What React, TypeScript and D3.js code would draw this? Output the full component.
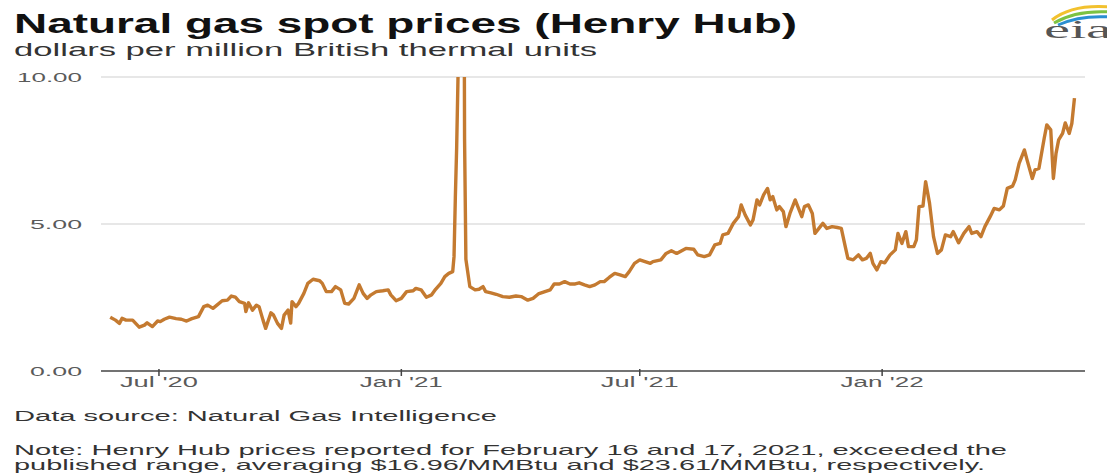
import { useRef, useEffect } from 'react';
import * as d3 from 'd3';

// Henry Hub spot price (dollars per MMBtu)
const dates = [
  '2020-05-25', '2020-05-29', '2020-06-01', '2020-06-03', '2020-06-06', '2020-06-11', '2020-06-16', '2020-06-20',
  '2020-06-22', '2020-06-26', '2020-06-30', '2020-07-02', '2020-07-05', '2020-07-09', '2020-07-14', '2020-07-18',
  '2020-07-22', '2020-07-26', '2020-07-31', '2020-08-04', '2020-08-07', '2020-08-11', '2020-08-14', '2020-08-18',
  '2020-08-22', '2020-08-25', '2020-08-28', '2020-08-31', '2020-09-04', '2020-09-05', '2020-09-07', '2020-09-10',
  '2020-09-13', '2020-09-15', '2020-09-18', '2020-09-20', '2020-09-24', '2020-09-26', '2020-09-29', '2020-10-02',
  '2020-10-04', '2020-10-07', '2020-10-09', '2020-10-10', '2020-10-13', '2020-10-15', '2020-10-19', '2020-10-22',
  '2020-10-26', '2020-10-31', '2020-11-02', '2020-11-05', '2020-11-09', '2020-11-12', '2020-11-16', '2020-11-19',
  '2020-11-22', '2020-11-26', '2020-11-30', '2020-12-03', '2020-12-06', '2020-12-09', '2020-12-13', '2020-12-18',
  '2020-12-22', '2020-12-24', '2020-12-28', '2021-01-01', '2021-01-05', '2021-01-10', '2021-01-12', '2021-01-16',
  '2021-01-20', '2021-01-24', '2021-01-27', '2021-01-31', '2021-02-03', '2021-02-06', '2021-02-09', '2021-02-10',
  '2021-02-11', '2021-02-12', '2021-02-16', '2021-02-17', '2021-02-18', '2021-02-19', '2021-02-22', '2021-02-26',
  '2021-03-01', '2021-03-04', '2021-03-06', '2021-03-10', '2021-03-14', '2021-03-19', '2021-03-24', '2021-03-29',
  '2021-04-02', '2021-04-07', '2021-04-11', '2021-04-15', '2021-04-20', '2021-04-24', '2021-04-27', '2021-05-01',
  '2021-05-05', '2021-05-09', '2021-05-13', '2021-05-16', '2021-05-20', '2021-05-24', '2021-05-28', '2021-06-01',
  '2021-06-04', '2021-06-08', '2021-06-12', '2021-06-16', '2021-06-20', '2021-06-23', '2021-06-27', '2021-07-01',
  '2021-07-05', '2021-07-09', '2021-07-11', '2021-07-17', '2021-07-21', '2021-07-25', '2021-07-29', '2021-08-05',
  '2021-08-11', '2021-08-14', '2021-08-19', '2021-08-23', '2021-08-27', '2021-08-31', '2021-09-02', '2021-09-06',
  '2021-09-10', '2021-09-14', '2021-09-16', '2021-09-19', '2021-09-23', '2021-09-25', '2021-09-28', '2021-09-30',
  '2021-10-03', '2021-10-06', '2021-10-08', '2021-10-10', '2021-10-13', '2021-10-15', '2021-10-18', '2021-10-20',
  '2021-10-23', '2021-10-27', '2021-10-29', '2021-11-01', '2021-11-03', '2021-11-06', '2021-11-09', '2021-11-11',
  '2021-11-14', '2021-11-17', '2021-11-20', '2021-11-24', '2021-11-28', '2021-12-01', '2021-12-04', '2021-12-06',
  '2021-12-10', '2021-12-14', '2021-12-17', '2021-12-20', '2021-12-23', '2021-12-25', '2021-12-28', '2021-12-31',
  '2022-01-03', '2022-01-07', '2022-01-11', '2022-01-13', '2022-01-16', '2022-01-19', '2022-01-21', '2022-01-25',
  '2022-01-27', '2022-01-29', '2022-02-01', '2022-02-03', '2022-02-06', '2022-02-09', '2022-02-12', '2022-02-15',
  '2022-02-18', '2022-02-22', '2022-02-24', '2022-02-28', '2022-03-04', '2022-03-08', '2022-03-10', '2022-03-14',
  '2022-03-17', '2022-03-20', '2022-03-24', '2022-03-27', '2022-03-31', '2022-04-03', '2022-04-06', '2022-04-10',
  '2022-04-12', '2022-04-15', '2022-04-19', '2022-04-21', '2022-04-25', '2022-04-27', '2022-04-30', '2022-05-04',
  '2022-05-06', '2022-05-09', '2022-05-11', '2022-05-13', '2022-05-15', '2022-05-18', '2022-05-20', '2022-05-23',
  '2022-05-25', '2022-05-27',
];

const prices = [
  1.83, 1.73, 1.62, 1.79, 1.73, 1.73, 1.49, 1.56,
  1.64, 1.51, 1.70, 1.68, 1.76, 1.83, 1.78, 1.76,
  1.70, 1.78, 1.85, 2.19, 2.24, 2.13, 2.24, 2.39,
  2.41, 2.55, 2.51, 2.36, 2.30, 2.02, 2.32, 2.07,
  2.24, 2.19, 1.73, 1.45, 1.98, 1.90, 1.62, 1.45,
  1.90, 2.07, 1.63, 2.36, 2.19, 2.30, 2.64, 2.98,
  3.12, 3.07, 2.98, 2.70, 2.70, 2.87, 2.76, 2.30,
  2.28, 2.47, 2.93, 2.64, 2.47, 2.59, 2.70, 2.73,
  2.76, 2.59, 2.39, 2.47, 2.70, 2.73, 2.81, 2.76,
  2.51, 2.59, 2.78, 2.98, 3.21, 3.32, 3.38, 3.89,
  5.90, 7.60, 16.96, 23.61, 7.90, 3.80, 2.87, 2.76,
  2.78, 2.87, 2.70, 2.66, 2.61, 2.53, 2.51, 2.55,
  2.53, 2.41, 2.47, 2.62, 2.70, 2.76, 2.96, 2.96,
  3.04, 2.96, 2.96, 3.00, 2.93, 2.87, 2.93, 3.04,
  3.04, 3.19, 3.32, 3.27, 3.21, 3.38, 3.66, 3.78,
  3.72, 3.66, 3.72, 3.78, 4.00, 4.09, 4.00, 4.17,
  4.14, 3.95, 3.89, 3.95, 4.29, 4.34, 4.63, 4.68,
  5.02, 5.25, 5.65, 5.31, 4.97, 5.14, 5.82, 5.65,
  5.99, 6.21, 5.82, 5.93, 5.48, 5.59, 5.42, 4.91,
  5.36, 5.82, 5.59, 5.25, 5.59, 5.65, 5.36, 4.68,
  4.85, 5.02, 4.85, 4.91, 4.88, 4.85, 4.23, 3.83,
  3.78, 3.95, 3.78, 3.83, 4.00, 3.66, 3.44, 3.72,
  3.68, 3.95, 4.12, 4.68, 4.34, 4.74, 4.23, 4.23,
  4.46, 5.59, 5.61, 6.44, 5.70, 4.57, 4.00, 4.12,
  4.63, 4.57, 4.74, 4.36, 4.68, 4.91, 4.68, 4.74,
  4.57, 4.91, 5.25, 5.53, 5.48, 5.61, 6.21, 6.29,
  6.50, 7.06, 7.52, 7.18, 6.55, 6.84, 6.89, 7.91,
  8.37, 8.20, 6.55, 7.40, 7.86, 8.08, 8.44, 8.08,
  8.42, 9.28,
];

const xTicks = ['2020-07-01', '2021-01-01', '2021-07-01', '2022-01-01'];
const yTicks = [0, 5, 10];

const title = 'Natural gas spot prices (Henry Hub)';
const subtitle = 'dollars per million British thermal units';
const source = 'Data source: Natural Gas Intelligence';
const noteLines = [
  'Note: Henry Hub prices reported for February 16 and 17, 2021, exceeded the',
  'published range, averaging $16.96/MMBtu and $23.61/MMBtu, respectively.',
];

const W = 1107;
const H = 474;
const FONT = "'Liberation Sans', Arial, Helvetica, sans-serif";
const LINE = '#c47a30';

export default function App() {
  const ref = useRef<SVGSVGElement | null>(null);

  useEffect(() => {
    const svg = d3.select(ref.current);
    svg.selectAll('*').remove();

    const parse = d3.timeParse('%Y-%m-%d');
    const data = dates.map((d, i) => ({ date: parse(d)!, value: prices[i] }));

    const left = 101;
    const right = 1085;
    const top = 77;
    const bottom = 371;

    const x = d3
      .scaleTime()
      .domain([parse('2020-05-18')!, parse('2022-06-04')!])
      .range([left, right]);
    const y = d3.scaleLinear().domain([0, 10]).range([bottom, top]);

    // the source image is stretched sideways, so texts get a fixed length
    const stretched = (
      txt: string,
      tx: number,
      ty: number,
      size: number,
      len: number,
      opts: { weight?: string; fill?: string; anchor?: string } = {}
    ) =>
      svg
        .append('text')
        .attr('x', tx)
        .attr('y', ty)
        .attr('font-family', FONT)
        .attr('font-size', size)
        .attr('font-weight', opts.weight || 'normal')
        .attr('fill', opts.fill || '#333')
        .attr('text-anchor', opts.anchor || 'start')
        .attr('textLength', len)
        .attr('lengthAdjust', 'spacingAndGlyphs')
        .text(txt);

    stretched(title, 14, 33, 28, 783, { weight: 'bold', fill: '#111' });
    stretched(subtitle, 14, 56, 18.5, 583, { fill: '#333' });

    // eia logo
    const logo = svg.append('g');
    const arcs = [
      { c: '#f2c12e', d: 'M1052,20 Q1072,4 1110,7' },
      { c: '#7cc242', d: 'M1054,23 Q1076,10 1110,12' },
      { c: '#2a8fd1', d: 'M1058,25 Q1080,15 1110,17' },
    ];
    arcs.forEach(a =>
      logo
        .append('path')
        .attr('d', a.d)
        .attr('fill', 'none')
        .attr('stroke', a.c)
        .attr('stroke-width', 3)
    );
    logo
      .append('text')
      .attr('x', 1044)
      .attr('y', 38)
      .attr('font-family', "'Liberation Serif', 'DejaVu Serif', serif")
      .attr('font-size', 25)
      .attr('fill', '#555')
      .attr('textLength', 68)
      .attr('lengthAdjust', 'spacingAndGlyphs')
      .text('eia');

    // gridlines
    svg
      .append('g')
      .selectAll('line')
      .data(yTicks.filter(t => t > 0))
      .join('line')
      .attr('x1', left)
      .attr('x2', right)
      .attr('y1', d => y(d))
      .attr('y2', d => y(d))
      .attr('stroke', '#cfcfcf')
      .attr('stroke-width', 1.2);

    // y labels
    const fmt = d3.format('.2f');
    yTicks.forEach(t => {
      const s = fmt(t);
      stretched(s, 82, y(t) + 5, 13.5, s.length === 5 ? 65 : 52, { anchor: 'end', fill: '#5a5a5a' });
    });

    // x axis
    svg
      .append('line')
      .attr('x1', left)
      .attr('x2', right)
      .attr('y1', bottom)
      .attr('y2', bottom)
      .attr('stroke', '#444')
      .attr('stroke-width', 1.6);

    const xFmt = d3.timeFormat("%b '%y");
    xTicks.forEach(t => {
      const d = parse(t)!;
      const px = x(d);
      svg
        .append('line')
        .attr('x1', px)
        .attr('x2', px)
        .attr('y1', bottom - 2)
        .attr('y2', bottom + 5)
        .attr('stroke', '#444')
        .attr('stroke-width', 1.5);
      const lab = xFmt(d);
      stretched(lab, px, 387, 14, lab.startsWith('Jan') ? 83 : 78, { anchor: 'middle', fill: '#5a5a5a' });
    });

    // line, clipped at the top of the range
    svg
      .append('clipPath')
      .attr('id', 'plot-clip')
      .append('rect')
      .attr('x', left - 10)
      .attr('y', top)
      .attr('width', right - left + 20)
      .attr('height', bottom - top + 10);

    const line = d3
      .line<{ date: Date; value: number }>()
      .x(d => x(d.date))
      .y(d => y(d.value));

    svg
      .append('path')
      .datum(data)
      .attr('clip-path', 'url(#plot-clip)')
      .attr('fill', 'none')
      .attr('stroke', LINE)
      .attr('stroke-width', 3.4)
      .attr('stroke-linejoin', 'round')
      .attr('d', line);

    // footer
    stretched(source, 14, 421, 15.5, 483, { fill: '#333' });
    stretched(noteLines[0], 14, 455, 15, 993, { fill: '#333' });
    stretched(noteLines[1], 14, 470, 15, 971, { fill: '#333' });
  }, []);

  return (
    <svg
      ref={ref}
      width={W}
      height={H}
      style={{ position: 'absolute', left: 0, top: 0, background: '#fff' }}
    ></svg>
  );
}
